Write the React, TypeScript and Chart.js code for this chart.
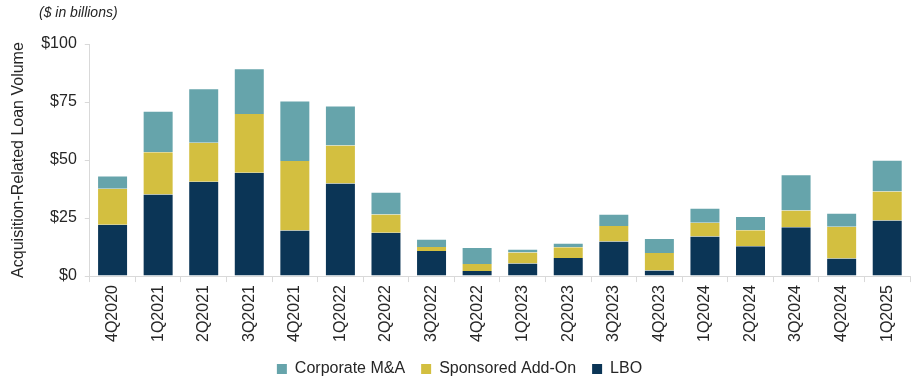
import React, { useEffect, useRef } from "react";
import { Chart, registerables } from "chart.js";

Chart.register(...registerables);

const quarters = [
  "4Q2020", "1Q2021", "2Q2021", "3Q2021", "4Q2021", "1Q2022", "2Q2022", "3Q2022", "4Q2022",
  "1Q2023", "2Q2023", "3Q2023", "4Q2023", "1Q2024", "2Q2024", "3Q2024", "4Q2024", "1Q2025",
];
const lbo = [22.1, 35.2, 40.6, 44.5, 19.6, 39.9, 18.7, 10.8, 2.2, 5.4, 7.8, 14.9, 2.4, 17.1, 12.8, 21.0, 7.6, 23.9];
const sponsoredAddOn = [15.5, 18.2, 16.8, 25.3, 30.0, 16.4, 7.8, 1.7, 3.0, 4.7, 4.6, 6.7, 7.5, 5.9, 6.9, 7.2, 13.7, 12.5];
const corporateMA = [5.7, 17.8, 23.5, 19.8, 26.1, 17.2, 9.8, 3.6, 7.3, 1.7, 2.0, 5.3, 6.5, 6.4, 6.2, 15.7, 6.0, 13.7];
const yTicks = [0, 25, 50, 75, 100];

const FONT = "'Liberation Sans', Arial, sans-serif";
const TEXT = "#262626";
const GRID = "#d9d9d9";
const EDGE = "rgba(255,255,255,0.4)";
const SIDE_BORDER = { left: 1, right: 1, top: 0, bottom: 0 };

export default function App() {
  const ref = useRef<HTMLCanvasElement | null>(null);

  useEffect(() => {
    document.body.style.margin = "0";
    if (!ref.current) return;
    const chart = new Chart(ref.current, {
      type: "bar",
      data: {
        labels: quarters,
        datasets: [
          { label: "LBO", data: lbo, backgroundColor: "#0B3556", borderColor: EDGE, borderWidth: SIDE_BORDER },
          { label: "Sponsored Add-On", data: sponsoredAddOn, backgroundColor: "#D3BF40", borderColor: EDGE, borderWidth: SIDE_BORDER },
          { label: "Corporate M&A", data: corporateMA, backgroundColor: "#66A4AB", borderColor: EDGE, borderWidth: { left: 1, right: 1, top: 1, bottom: 0 } },
        ],
      },
      options: {
        responsive: false,
        animation: false,
        layout: { padding: { top: 44, right: 10, left: 9, bottom: -8 } },
        datasets: { bar: { categoryPercentage: 1, barPercentage: 0.68 } },
        plugins: {
          tooltip: { enabled: false },
          legend: {
            position: "bottom",
            reverse: true,
            labels: {
              font: { family: FONT, size: 16 },
              color: TEXT,
              boxWidth: 10,
              boxHeight: 10,
              padding: 16,
              generateLabels: (c: any) => {
                const items = Chart.defaults.plugins.legend.labels.generateLabels(c);
                return items.map((it: any) => ({ ...it, lineWidth: 0, strokeStyle: "transparent" }));
              },
            },
          },
        },
        scales: {
          x: {
            stacked: true,
            grid: {
              display: true,
              drawOnChartArea: false,
              offset: true,
              color: GRID,
              tickLength: 6,
            },
            border: { color: GRID },
            ticks: {
              font: { family: FONT, size: 16 },
              color: TEXT,
              minRotation: 90,
              maxRotation: 90,
              autoSkip: false,
              padding: 3,
            },
          },
          y: {
            stacked: true,
            min: 0,
            max: 100,
            afterBuildTicks: (axis: any) => {
              axis.ticks = yTicks.map((v) => ({ value: v }));
            },
            grid: { display: true, drawOnChartArea: false, color: GRID, tickLength: 5 },
            border: { color: GRID },
            ticks: {
              font: { family: FONT, size: 16 },
              color: TEXT,
              padding: 8,
              callback: (v: any) => "$" + v,
            },
            title: {
              display: true,
              text: "Acquisition-Related Loan Volume",
              font: { family: FONT, size: 16 },
              color: TEXT,
              padding: { top: 0, bottom: 5 },
            },
          },
        },
      },
    });
    return () => chart.destroy();
  }, []);

  return (
    <div style={{ position: "relative", width: 920, height: 379 }}>
      <div
        style={{
          position: "absolute",
          left: 39,
          top: 4,
          fontFamily: FONT,
          fontStyle: "italic",
          fontSize: 14,
          color: TEXT,
          lineHeight: "16px",
        }}
      >
        ($ in billions)
      </div>
      <canvas ref={ref} width={920} height={379} style={{ display: "block" }} />
    </div>
  );
}
